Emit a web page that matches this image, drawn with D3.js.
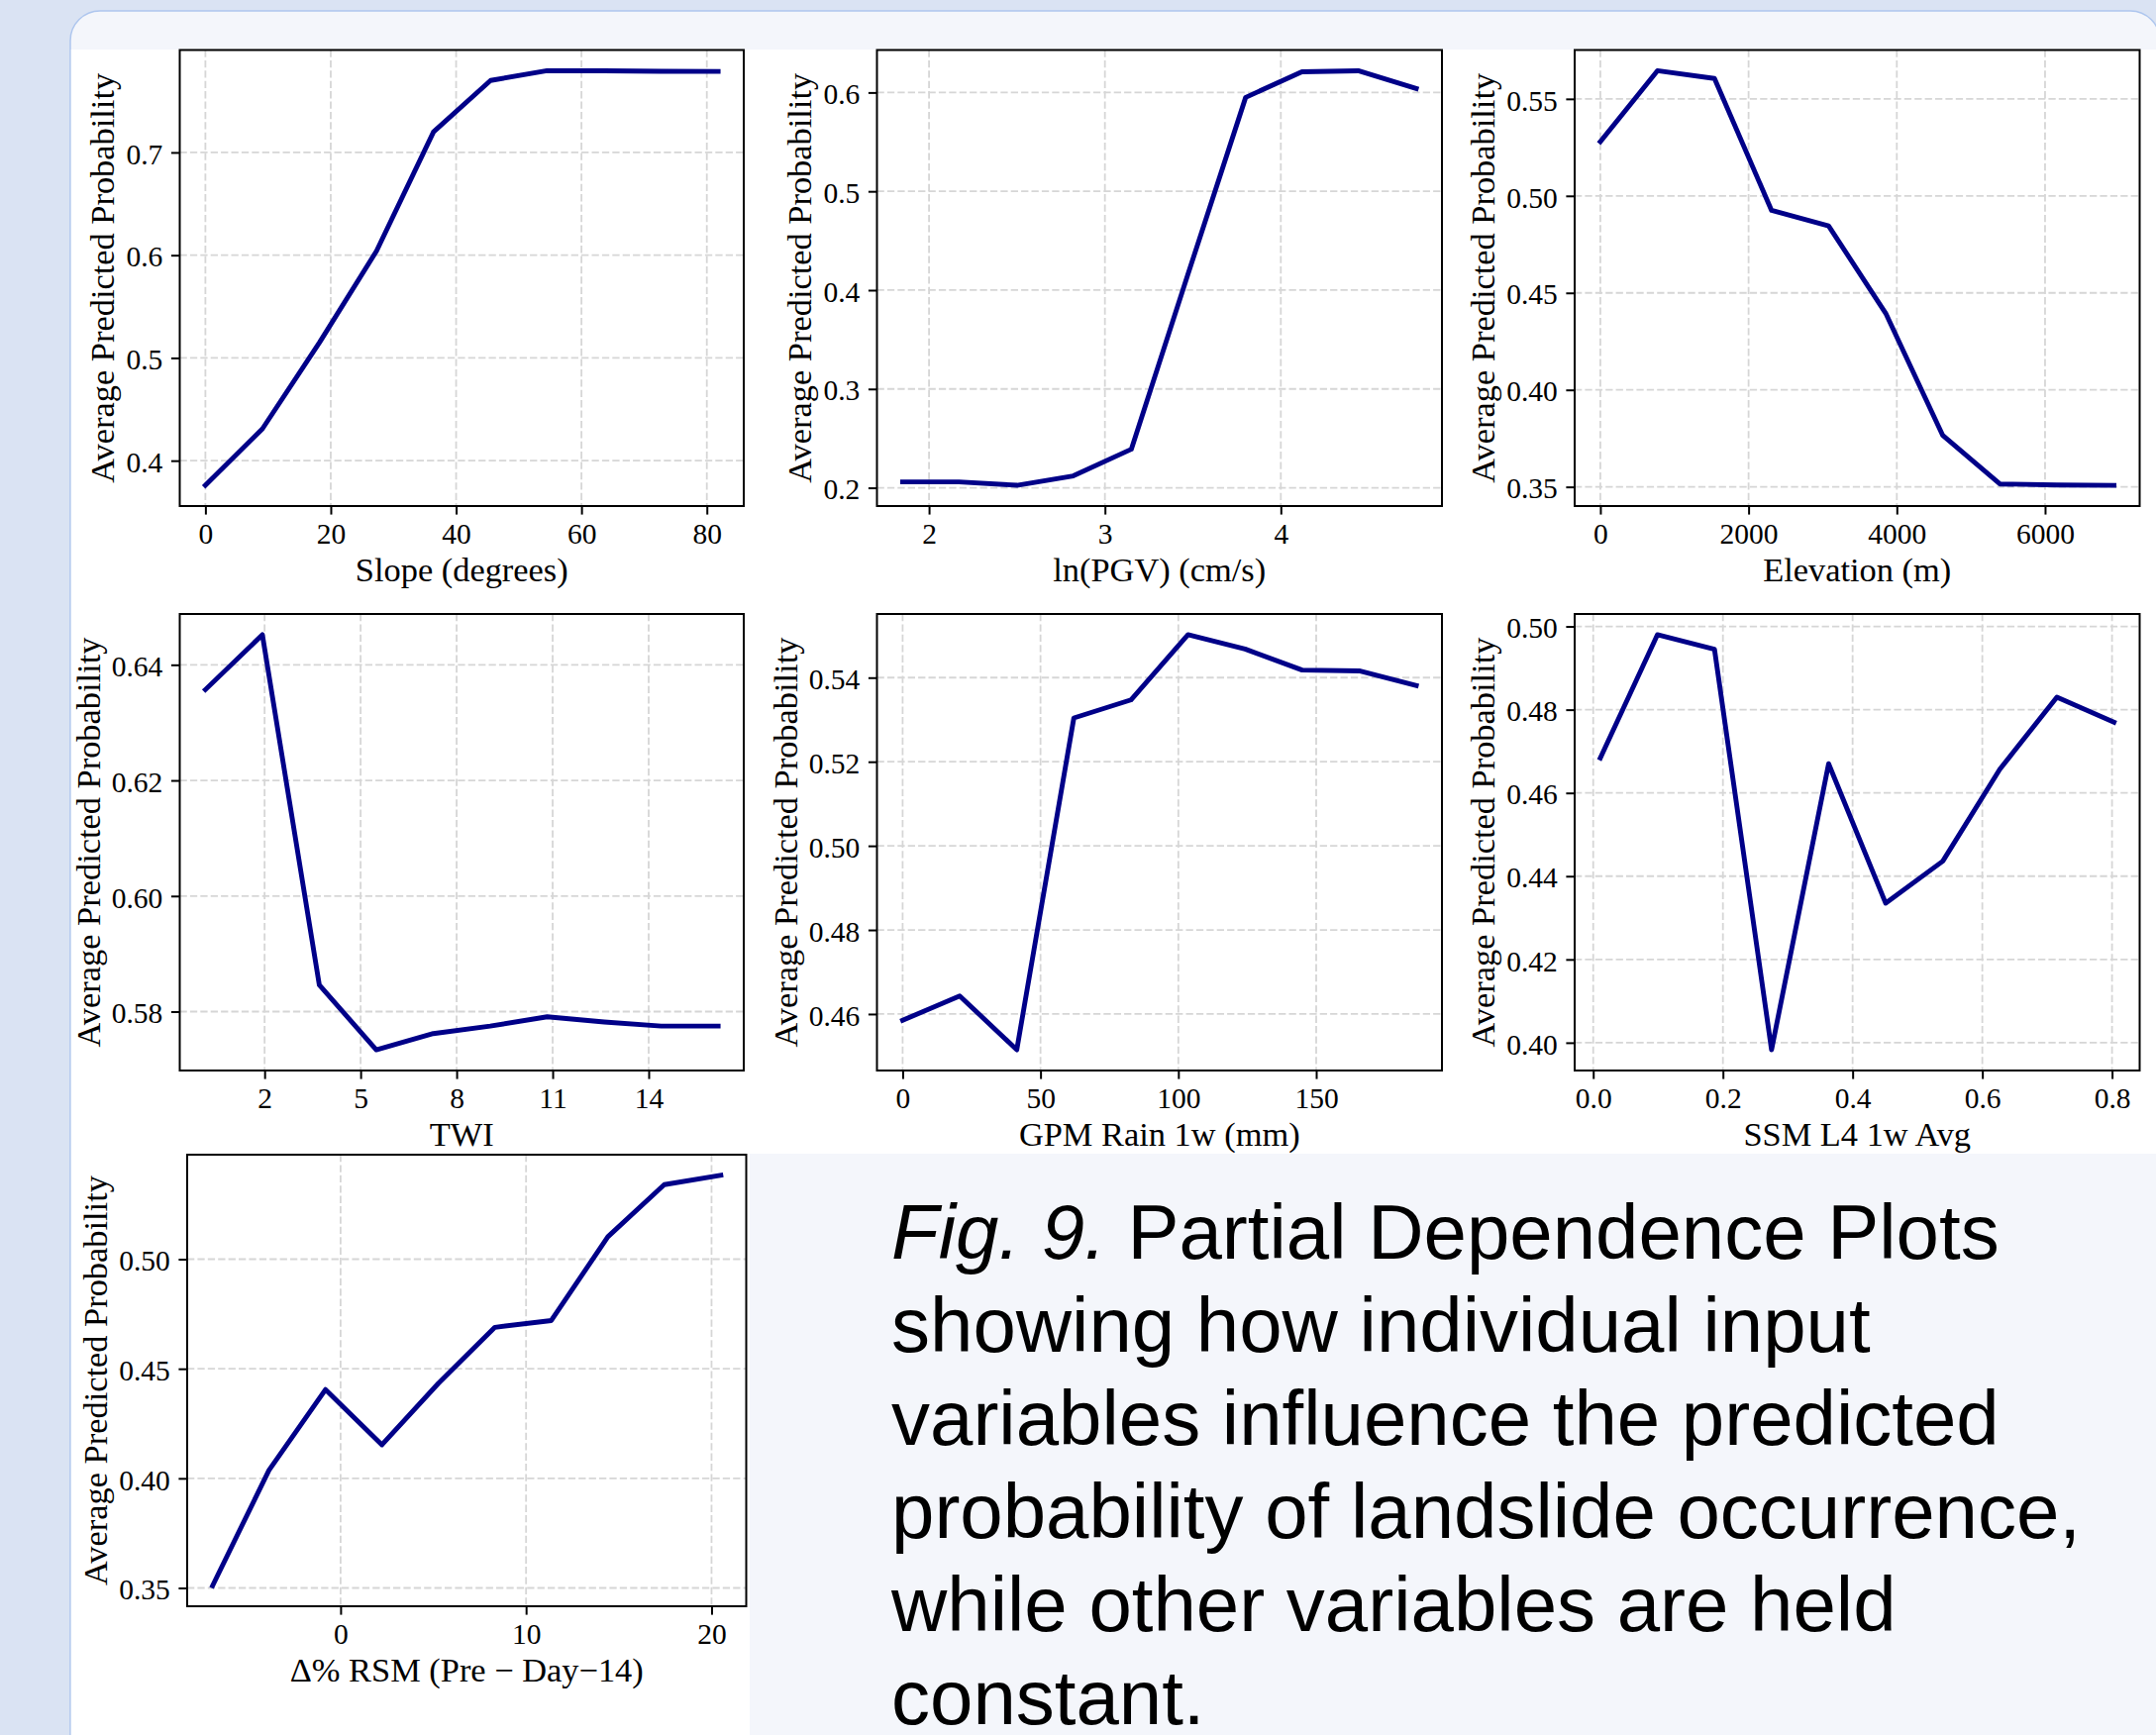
<!DOCTYPE html>
<html>
<head>
<meta charset="utf-8">
<script src="https://cdn.jsdelivr.net/npm/d3@7"></script>
<style>
  body { margin: 0; background: #dae3f3; }
  svg { display: block; }
</style>
</head>
<body>
<script>
// partial dependence curves
const slopeX = [0, 9.1, 18.2, 27.3, 36.4, 45.5, 54.5, 63.6, 72.7, 81.8];
const slopeY = [0.376, 0.431, 0.515, 0.604, 0.720, 0.770, 0.7795, 0.7795, 0.779, 0.7788];

const pgvX = [1.85, 2.17, 2.50, 2.82, 3.15, 3.47, 3.80, 4.12, 4.44, 4.77];
const pgvY = [0.206, 0.206, 0.2025, 0.212, 0.239, 0.415, 0.595, 0.621, 0.622, 0.604];

const elevX = [0, 770, 1540, 2310, 3080, 3850, 4620, 5390, 6160, 6930];
const elevY = [0.528, 0.5645, 0.5605, 0.4925, 0.4845, 0.4395, 0.3765, 0.3515, 0.351, 0.3508];

const twiX = [0.15, 1.93, 3.71, 5.49, 7.27, 9.05, 10.83, 12.61, 14.39, 16.17];
const twiY = [0.6357, 0.6452, 0.5846, 0.5734, 0.5762, 0.5775, 0.5791, 0.5782, 0.5775, 0.5775];

const rainX = [0, 20.7, 41.4, 62.1, 82.8, 103.5, 124.2, 144.9, 165.6, 186.3];
const rainY = [0.4585, 0.4643, 0.4515, 0.5304, 0.5347, 0.5502, 0.5468, 0.5418, 0.5416, 0.5381];

const ssmX = [0.011, 0.099, 0.187, 0.275, 0.363, 0.451, 0.539, 0.627, 0.715, 0.803];
const ssmY = [0.4684, 0.498, 0.4945, 0.3983, 0.467, 0.4335, 0.4436, 0.4657, 0.483, 0.4770];

const rsmX = [-6.9, -3.86, -0.81, 2.23, 5.28, 8.32, 11.36, 14.41, 17.45, 20.5];
const rsmY = [0.351, 0.4037, 0.4405, 0.4153, 0.4434, 0.4689, 0.472, 0.5102, 0.534, 0.5383];

// tick values and labels
const slopeXTicks = [0, 20, 40, 60, 80];
const slopeXLabels = ["0", "20", "40", "60", "80"];
const slopeYTicks = [0.4, 0.5, 0.6, 0.7];
const slopeYLabels = ["0.4", "0.5", "0.6", "0.7"];

const pgvXTicks = [2, 3, 4];
const pgvXLabels = ["2", "3", "4"];
const pgvYTicks = [0.2, 0.3, 0.4, 0.5, 0.6];
const pgvYLabels = ["0.2", "0.3", "0.4", "0.5", "0.6"];

const elevXTicks = [0, 2000, 4000, 6000];
const elevXLabels = ["0", "2000", "4000", "6000"];
const elevYTicks = [0.35, 0.40, 0.45, 0.50, 0.55];
const elevYLabels = ["0.35", "0.40", "0.45", "0.50", "0.55"];

const twiXTicks = [2, 5, 8, 11, 14];
const twiXLabels = ["2", "5", "8", "11", "14"];
const twiYTicks = [0.58, 0.60, 0.62, 0.64];
const twiYLabels = ["0.58", "0.60", "0.62", "0.64"];

const rainXTicks = [0, 50, 100, 150];
const rainXLabels = ["0", "50", "100", "150"];
const rainYTicks = [0.46, 0.48, 0.50, 0.52, 0.54];
const rainYLabels = ["0.46", "0.48", "0.50", "0.52", "0.54"];

const ssmXTicks = [0, 0.2, 0.4, 0.6, 0.8];
const ssmXLabels = ["0.0", "0.2", "0.4", "0.6", "0.8"];
const ssmYTicks = [0.40, 0.42, 0.44, 0.46, 0.48, 0.50];
const ssmYLabels = ["0.40", "0.42", "0.44", "0.46", "0.48", "0.50"];

const rsmXTicks = [0, 10, 20];
const rsmXLabels = ["0", "10", "20"];
const rsmYTicks = [0.35, 0.40, 0.45, 0.50];
const rsmYLabels = ["0.35", "0.40", "0.45", "0.50"];

const yTitle = "Average Predicted Probability";
const captionLines = [
    "showing how individual input",
    "variables influence the predicted",
    "probability of landslide occurrence,",
    "while other variables are held",
    "constant."
];

const W = 2177, H = 1752;
const serif = "'Liberation Serif', 'Times New Roman', serif";
const tickLen = 8.6, tickPad = 8.6;

const svg = d3.select("body").append("svg")
    .attr("width", W)
    .attr("height", H);

// page card + white figure panels
svg.append("rect")
    .attr("x", 71).attr("y", 11)
    .attr("width", 2110).attr("height", 1850)
    .attr("rx", 30)
    .attr("fill", "#f4f6fb")
    .attr("stroke", "#aec6ee")
    .attr("stroke-width", 1.5);

svg.append("rect")
    .attr("x", 71.8).attr("y", 50)
    .attr("width", W - 71.8).attr("height", 1115)
    .attr("fill", "white");

svg.append("rect")
    .attr("x", 71.8).attr("y", 1165)
    .attr("width", 757 - 71.8).attr("height", H - 1165)
    .attr("fill", "white");

const panels = [
    { x: slopeX, y: slopeY, xt: slopeXTicks, xl: slopeXLabels, yt: slopeYTicks, yl: slopeYLabels, title: "Slope (degrees)", box: [181.5, 50.5, 751, 511] },
    { x: pgvX, y: pgvY, xt: pgvXTicks, xl: pgvXLabels, yt: pgvYTicks, yl: pgvYLabels, title: "ln(PGV) (cm/s)", box: [885.5, 50.5, 1456, 511] },
    { x: elevX, y: elevY, xt: elevXTicks, xl: elevXLabels, yt: elevYTicks, yl: elevYLabels, title: "Elevation (m)", box: [1590, 50.5, 2160.5, 511] },
    { x: twiX, y: twiY, xt: twiXTicks, xl: twiXLabels, yt: twiYTicks, yl: twiYLabels, title: "TWI", box: [181.5, 620, 751, 1081] },
    { x: rainX, y: rainY, xt: rainXTicks, xl: rainXLabels, yt: rainYTicks, yl: rainYLabels, title: "GPM Rain 1w (mm)", box: [885.5, 620, 1456, 1081] },
    { x: ssmX, y: ssmY, xt: ssmXTicks, xl: ssmXLabels, yt: ssmYTicks, yl: ssmYLabels, title: "SSM L4 1w Avg", box: [1590, 620, 2160.5, 1081] },
    { x: rsmX, y: rsmY, xt: rsmXTicks, xl: rsmXLabels, yt: rsmYTicks, yl: rsmYLabels, title: "\u0394% RSM (Pre \u2212 Day\u221214)", box: [189, 1166, 753.5, 1622] }
];

function padded(vals) {
    const ext = d3.extent(vals);
    const pad = (ext[1] - ext[0]) * 0.05;
    return [ext[0] - pad, ext[1] + pad];
}

function drawPanel(p) {
    const [left, top, right, bottom] = p.box;
    const g = svg.append("g");

    const x = d3.scaleLinear().domain(padded(p.x)).range([left, right]);
    const y = d3.scaleLinear().domain(padded(p.y)).range([bottom, top]);

    // dashed grid
    g.selectAll(".vgrid")
        .data(p.xt)
        .enter()
        .append("line")
            .attr("x1", d => x(d)).attr("x2", d => x(d))
            .attr("y1", top).attr("y2", bottom)
            .attr("stroke", "#d6d6d6")
            .attr("stroke-width", 1.8)
            .attr("stroke-dasharray", "7.3,3.1");

    g.selectAll(".hgrid")
        .data(p.yt)
        .enter()
        .append("line")
            .attr("x1", left).attr("x2", right)
            .attr("y1", d => y(d)).attr("y2", d => y(d))
            .attr("stroke", "#d6d6d6")
            .attr("stroke-width", 1.8)
            .attr("stroke-dasharray", "7.3,3.1");

    // curve
    g.append("path")
        .datum(d3.zip(p.x, p.y))
        .attr("d", d3.line().x(d => x(d[0])).y(d => y(d[1])))
        .attr("fill", "none")
        .attr("stroke", "#000088")
        .attr("stroke-width", 4.9)
        .attr("stroke-linejoin", "round")
        .attr("stroke-linecap", "square");

    // frame
    g.append("rect")
        .attr("x", left).attr("y", top)
        .attr("width", right - left).attr("height", bottom - top)
        .attr("fill", "none")
        .attr("stroke", "black")
        .attr("stroke-width", 2);

    // axes
    const xAxis = g.append("g")
        .attr("transform", `translate(0,${bottom})`)
        .call(d3.axisBottom(x).tickValues(p.xt).tickFormat((d, i) => p.xl[i]).tickSize(tickLen).tickPadding(tickPad));

    const yAxis = g.append("g")
        .attr("transform", `translate(${left},0)`)
        .call(d3.axisLeft(y).tickValues(p.yt).tickFormat((d, i) => p.yl[i]).tickSize(tickLen).tickPadding(tickPad));

    [xAxis, yAxis].forEach(a => {
        a.select(".domain").remove();
        a.attr("font-family", serif).attr("font-size", 29.5);
        a.selectAll(".tick line").attr("stroke", "black").attr("stroke-width", 2);
        a.selectAll(".tick text").attr("fill", "black");
    });
    yAxis.selectAll(".tick text").attr("dy", "0.38em");

    let maxW = 0;
    yAxis.selectAll(".tick text").each(function () {
        maxW = Math.max(maxW, this.getComputedTextLength());
    });

    // axis titles
    g.append("text")
        .attr("x", (left + right) / 2)
        .attr("y", bottom + 76)
        .attr("text-anchor", "middle")
        .attr("font-family", serif)
        .attr("font-size", 34.4)
        .text(p.title);

    const lx = left - tickLen - tickPad - maxW - 12;
    g.append("text")
        .attr("transform", `translate(${lx},${(top + bottom) / 2}) rotate(-90)`)
        .attr("text-anchor", "middle")
        .attr("font-family", serif)
        .attr("font-size", 34.4)
        .text(yTitle);
}

panels.forEach(drawPanel);

// caption
const cap = svg.append("text")
    .attr("font-family", "'Liberation Sans', Arial, sans-serif")
    .attr("font-size", 78)
    .attr("fill", "black");

const first = cap.append("tspan").attr("x", 900).attr("y", 1271);
first.append("tspan").style("font-style", "italic").text("Fig. 9.");
first.append("tspan").text(" Partial Dependence Plots");

captionLines.forEach((line, i) => {
    cap.append("tspan")
        .attr("x", 900)
        .attr("y", 1271 + (i + 1) * 94)
        .text(line);
});
</script>
</body>
</html>
